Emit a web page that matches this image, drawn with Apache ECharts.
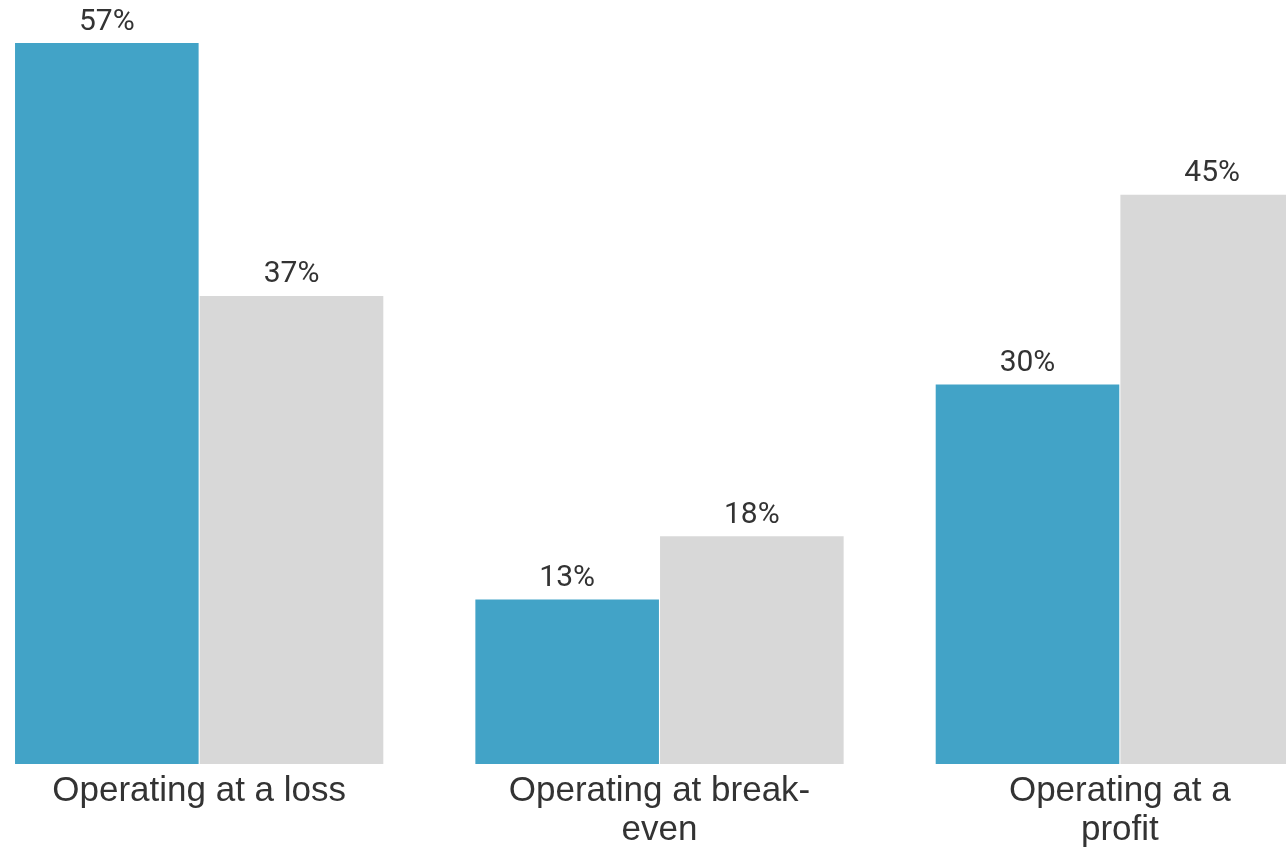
<!DOCTYPE html>
<html>
<head>
<meta charset="utf-8">
<script src="https://cdn.jsdelivr.net/npm/echarts@6/dist/echarts.min.js"></script>
<style>
html,body{margin:0;padding:0;background:#fff;overflow:hidden;width:1286px;height:850px;}
#chart{width:1381px;height:850px;margin-left:-31px;}
</style>
</head>
<body>
<div id="chart"></div>
<script>
var categories = ["Operating at a loss", "Operating at break-\neven", "Operating at a\nprofit"];
var seriesA = [57, 13, 30];
var seriesB = [37, 18, 45];

var chart = echarts.init(document.getElementById('chart'), null, {renderer: 'canvas'});
var labelStyle = {
  show: true,
  position: 'top',
  distance: 6,
  formatter: '{c}%',
  fontFamily: 'Roboto',
  fontSize: 30,
  color: '#333333'
};
chart.setOption({
  animation: false,
  backgroundColor: '#ffffff',
  grid: {left: 0, right: 0, top: 43, bottom: 79, containLabel: false},
  xAxis: {
    type: 'category',
    data: categories,
    axisLine: {show: false},
    axisTick: {show: false},
    axisLabel: {
      interval: 0,
      margin: 8,
      fontFamily: 'Liberation Sans',
      fontSize: 35,
      lineHeight: 39,
      color: '#333333'
    }
  },
  yAxis: {
    type: 'value',
    min: 0,
    max: 57,
    show: false,
    splitLine: {show: false}
  },
  series: [
    {
      type: 'bar',
      data: seriesA,
      barCategoryGap: '20%',
      barGap: '0.6%',
      itemStyle: {color: '#42A3C7'},
      label: labelStyle
    },
    {
      type: 'bar',
      data: seriesB,
      itemStyle: {color: '#D8D8D8'},
      label: labelStyle
    }
  ]
});
</script>
</body>
</html>
